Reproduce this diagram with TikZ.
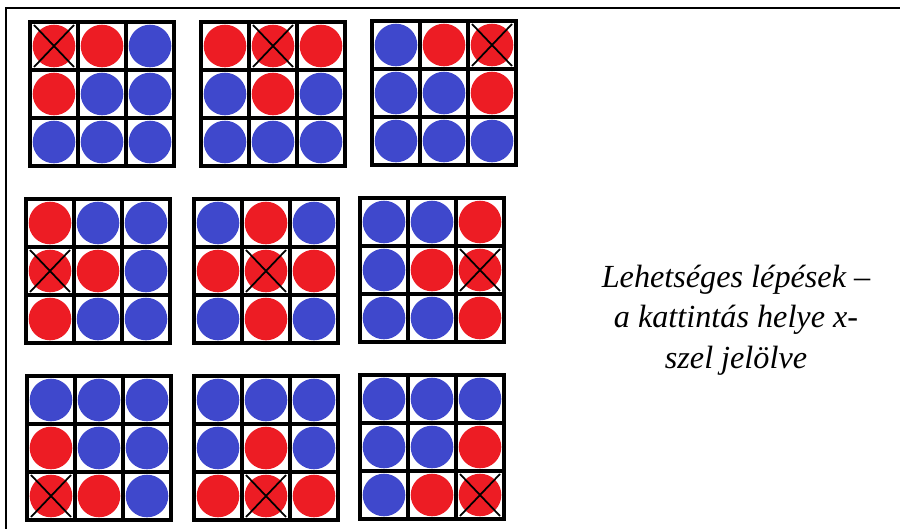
\documentclass[tikz,border=0pt]{standalone}
\usepackage{fontspec}
\setmainfont{Liberation Serif}
\usepackage{xcolor}
\definecolor{pred}{RGB}{237,28,36}
\definecolor{pblue}{RGB}{63,72,204}

% one 3x3 board: x, y (top left), colour list, crossed cell
\newcommand{\board}[4]{%
  \begin{scope}[shift={(#1,#2)}]
    \foreach \c [count=\k from 0] in {#3}{
      \pgfmathtruncatemacro\col{mod(\k,3)}
      \pgfmathtruncatemacro\row{div(\k,3)}
      \fill[\c] ({(\col+0.5)*48},{(\row+0.5)*48}) circle (21.3);
      \ifnum\k=#4
        \draw[line width=1.5pt] ({(\col+0.5)*48-20},{(\row+0.5)*48-21}) -- ++(40,42)
             ({(\col+0.5)*48-20},{(\row+0.5)*48+21}) -- ++(40,-42);
      \fi
    }
    \foreach \t in {0,48,96,144}{
      \draw[line width=2.6pt,line cap=rect] (\t,0) -- (\t,144);
      \draw[line width=2.6pt,line cap=rect] (0,\t) -- (144,\t);
    }
  \end{scope}}

\begin{document}
\begin{tikzpicture}[x=0.03cm,y=-0.03cm]
        \useasboundingbox (0,0) rectangle (900,529);
        % frame
        \draw[line width=1.6pt] (900,8) -- (6,8) -- (6,529);
        % row 1
        \board{30}{22}{pred,pred,pblue,pred,pblue,pblue,pblue,pblue,pblue}{0}
        \board{201}{22}{pred,pred,pred,pblue,pred,pblue,pblue,pblue,pblue}{1}
        \board{372}{21}{pblue,pred,pred,pblue,pblue,pred,pblue,pblue,pblue}{2}
        % row 2
        \board{26}{199}{pred,pblue,pblue,pred,pred,pblue,pred,pblue,pblue}{3}
        \board{194}{199}{pblue,pred,pblue,pred,pred,pred,pblue,pred,pblue}{4}
        \board{360}{198}{pblue,pblue,pred,pblue,pred,pred,pblue,pblue,pred}{5}
        % row 3
        \board{27}{376}{pblue,pblue,pblue,pred,pblue,pblue,pred,pred,pblue}{6}
        \board{194}{376}{pblue,pblue,pblue,pblue,pred,pblue,pred,pred,pred}{7}
        \board{360}{375}{pblue,pblue,pblue,pblue,pblue,pred,pblue,pred,pred}{8}
        % caption
        \node[align=center,font=\fontsize{27.5}{34.5}\selectfont\itshape] (cap) at (736,320)
             {Lehetséges lépések –\\a kattintás helye x-\\szel jelölve};
\end{tikzpicture}
\end{document}
